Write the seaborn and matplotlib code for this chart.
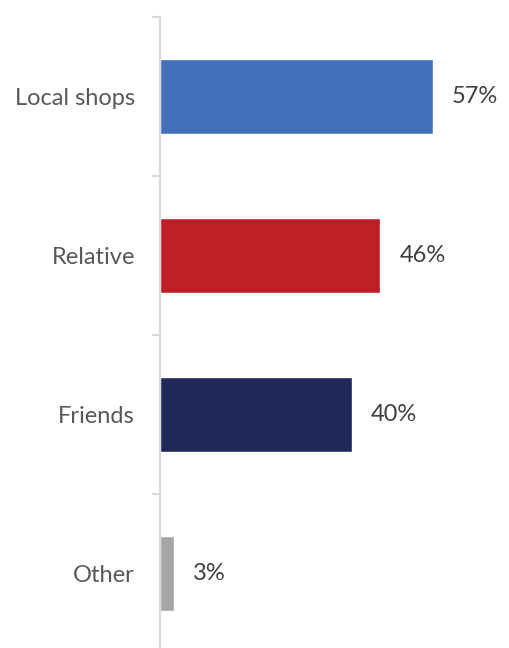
import matplotlib
matplotlib.use("Agg")
import matplotlib.pyplot as plt
import seaborn as sns
import pandas as pd

categories = ["Local shops", "Relative", "Friends", "Other"]
values = [57, 46, 40, 3]
colors = ["#4270ba", "#c01f27", "#1e2859", "#a6a6a6"]

df = pd.DataFrame({"cat": categories, "val": values})

sns.set_style("white")
plt.rcParams["font.family"] = ["Lato", "DejaVu Sans"]

fig = plt.figure(figsize=(5.09, 6.48), dpi=100)
ax = fig.add_axes([160 / 509, 0, 349 / 509, (648 - 17) / 648])

sns.barplot(data=df, y="cat", x="val", hue="cat", palette=colors,
            orient="h", width=0.47, legend=False, ax=ax, saturation=1)

ax.set_xlim(0, 349 / 4.79)
ax.set_ylim(-0.5 + (648 - 17) / 159, -0.5)

for i, v in enumerate(values):
    ax.text(v + 19 / 4.79, i, f"{v}%", va="center", ha="left",
            fontsize=17, color="#404040")

for s in ["top", "right", "bottom"]:
    ax.spines[s].set_visible(False)
ax.spines["left"].set_color("#d9d9d9")
ax.spines["left"].set_linewidth(1.5)

ax.set_xticks([])
ax.set_xlabel("")
ax.set_ylabel("")
ax.set_yticks(range(len(categories)))
ax.set_yticklabels(categories, fontsize=17, color="#595959")
ax.tick_params(axis="y", which="both", left=True)
ax.tick_params(axis="y", which="major", length=0, pad=18)
ax.set_yticks([-0.5, 0.5, 1.5, 2.5], minor=True)
ax.tick_params(axis="y", which="minor", length=6, color="#d9d9d9", width=1.5)

fig.savefig("out.png", dpi=100)
